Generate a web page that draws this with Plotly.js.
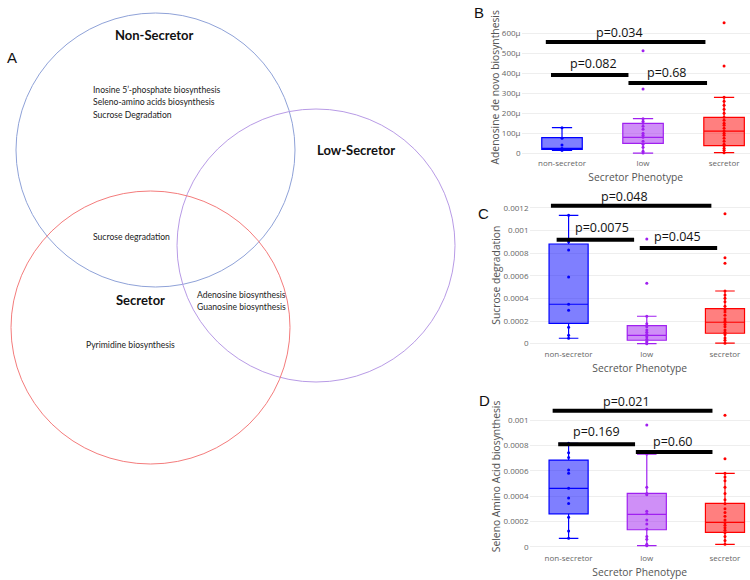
<!DOCTYPE html>
<html><head><meta charset="utf-8">
<script src="https://cdn.plot.ly/plotly-3.0.1.min.js"></script>
<style>html,body{margin:0;padding:0;background:#fff}#chart{width:750px;height:580px}</style>
</head><body><div id="chart"></div>
<script>
// ---------- DATA ----------
const phenotypes = ['non-secretor', 'low', 'secretor'];

// Panel B: Adenosine de novo biosynthesis
const adenosineNonSec = [128e-6, 75e-6, 41e-6, 24e-6, 20e-6, 17e-6, 15e-6];
const adenosineLow = [513e-6, 321e-6, 173e-6, 160e-6, 150e-6, 135e-6, 120e-6, 100e-6, 90e-6, 80e-6, 60e-6, 45e-6, 30e-6, 10e-6, 1e-6];
const adenosineSec = [653e-6, 436e-6, 280e-6, 260e-6, 240e-6, 220e-6, 200e-6, 180e-6, 165e-6, 150e-6, 140e-6, 125e-6, 111e-6, 100e-6, 90e-6, 75e-6, 60e-6, 45e-6, 38e-6, 25e-6, 15e-6, 3e-6];
// [lowerfence, q1, median, q3, upperfence]
const adenosineNonSecStats = [15e-6, 20e-6, 24e-6, 78e-6, 128e-6];
const adenosineLowStats = [1e-6, 50e-6, 80e-6, 150e-6, 173e-6];
const adenosineSecStats = [3e-6, 38e-6, 111e-6, 180e-6, 280e-6];
const adenosineTickVals = [0, 100e-6, 200e-6, 300e-6, 400e-6, 500e-6, 600e-6];
const adenosineTickText = ['0', '100μ', '200μ', '300μ', '400μ', '500μ', '600μ'];
const adenosinePValues = ['p=0.034', 'p=0.082', 'p=0.68'];

// Panel C: Sucrose degradation
const sucroseNonSec = [0.001133, 0.00090, 0.000827, 0.000589, 0.000348, 0.000295, 0.000145, 0.000074, 0.000048];
const sucroseLow = [0.000924, 0.000533, 0.000242, 0.000175, 0.00015, 0.00012, 0.0001, 0.00008, 0.00006, 0.00004, 0.00002, 0.000005, 0];
const sucroseSec = [0.001147, 0.000759, 0.00071, 0.000465, 0.00043, 0.0004, 0.00037, 0.00033, 0.0003, 0.00028, 0.00025, 0.00022, 0.0002, 0.00019, 0.00017, 0.00015, 0.00012, 0.0001, 0.00008, 0.00005, 0.00003, 0.000004];
const sucroseNonSecStats = [0.000048, 0.00018, 0.000348, 0.00088, 0.001133];
const sucroseLowStats = [0, 0.00003, 0.000074, 0.000159, 0.000242];
const sucroseSecStats = [0.000004, 0.000092, 0.000189, 0.000309, 0.000465];
const sucroseTickVals = [0, 0.0002, 0.0004, 0.0006, 0.0008, 0.001, 0.0012];
const sucroseTickText = ['0', '0.0002', '0.0004', '0.0006', '0.0008', '0.001', '0.0012'];
const sucrosePValues = ['p=0.048', 'p=0.0075', 'p=0.045'];

// Panel D: Seleno Amino Acid biosynthesis
const selenoNonSec = [0.000816, 0.000742, 0.000705, 0.000605, 0.000579, 0.000461, 0.000384, 0.000342, 0.000232, 0.000124, 0.000066];
const selenoLow = [0.00096, 0.000731, 0.00047, 0.00042, 0.00041, 0.00028, 0.00026, 0.00021, 0.00018, 0.00014, 0.00008, 0.00006, 0.00002, 0.000008];
const selenoSec = [0.001037, 0.000694, 0.000579, 0.00055, 0.00052, 0.00047, 0.00042, 0.00037, 0.00034, 0.0003, 0.00027, 0.00024, 0.00021, 0.00019, 0.00017, 0.00015, 0.00013, 0.00011, 0.00008, 0.00005, 0.000019];
const selenoNonSecStats = [0.000066, 0.00026, 0.000461, 0.000684, 0.000816];
const selenoLowStats = [0.000008, 0.000134, 0.000256, 0.000421, 0.000731];
const selenoSecStats = [0.000019, 0.000114, 0.000192, 0.000342, 0.000579];
const selenoTickVals = [0, 0.0002, 0.0004, 0.0006, 0.0008, 0.001];
const selenoTickText = ['0', '0.0002', '0.0004', '0.0006', '0.0008', '0.001'];
const selenoPValues = ['p=0.021', 'p=0.169', 'p=0.60'];

// Venn diagram (panel A)
const vennSets = ['Non-Secretor', 'Low-Secretor', 'Secretor'];
const vennNonSecOnly = ['Inosine 5’-phosphate biosynthesis', 'Seleno-amino acids biosynthesis', 'Sucrose Degradation'];
const vennNonSecAndSec = ['Sucrose degradation'];
const vennLowAndSec = ['Adenosine biosynthesis', 'Guanosine biosynthesis'];
const vennSecOnly = ['Pyrimidine biosynthesis'];

// ---------- STYLE / LAYOUT CONFIG ----------
const W = 750, H = 580;
const px = x => x / W;
const py = y => 1 - y / H;
const lineColors = ['rgb(0,0,255)', 'rgb(160,32,240)', 'rgb(255,0,0)'];
const fillColors = ['rgba(0,0,255,0.5)', 'rgba(160,32,240,0.5)', 'rgba(255,0,0,0.5)'];
const tickFont = {family: 'Open Sans, sans-serif', size: 8, color: '#666'};
const titleFont = {family: 'Open Sans, sans-serif', size: 10.3, color: '#555'};
const pFont = {family: 'Open Sans, sans-serif', size: 12.5, color: '#111'};

// panel frames: [left px, top px, bottom px, yRange]
const frameB = [521.5, 17.3, 157.3, [-20e-6, 680e-6]];
const frameC = [529.5, 202.1, 348.2, [-0.00004, 0.00125]];
const frameD = [529.5, 401, 551.8, [-0.00004, 0.00115]];

// comparison bracket geometry per panel: [x0, x1, barY, textX, textY]
const bracketsB = [[-0.2, 1.77, 556e-6, 0.71, 603e-6], [-0.136, 0.82, 391e-6, 0.386, 450e-6], [0.82, 1.79, 351e-6, 1.30, 403e-6]];
const bracketsC = [[-0.226, 1.826, 0.001218, 0.72, 0.0012975], [-0.153, 0.838, 0.000918, 0.43, 0.001027], [0.91, 1.90, 0.000845, 1.39, 0.000942]];
const bracketsD = [[-0.204, 1.84, 0.001074, 0.74, 0.001144], [-0.133, 0.85, 0.000808, 0.36, 0.000908], [0.86, 1.84, 0.000747, 1.34, 0.000829]];

const traces = [];
const shapes = [];
const annotations = [];

function addPanel(xa, ya, frame, pointSets, statSets, pvals, brackets) {
  phenotypes.forEach((p, i) => {
    const s = statSets[i];
    traces.push({
      type: 'box', x: [p], lowerfence: [s[0]], q1: [s[1]], median: [s[2]], q3: [s[3]], upperfence: [s[4]],
      xaxis: xa, yaxis: ya, width: 0.5, whiskerwidth: 0.5, boxpoints: false,
      line: {color: lineColors[i], width: 1.2}, fillcolor: fillColors[i],
      showlegend: false, hoverinfo: 'skip'
    });
    traces.push({
      type: 'scatter', mode: 'markers', x: pointSets[i].map(() => p), y: pointSets[i],
      xaxis: xa, yaxis: ya, marker: {color: lineColors[i], size: 3},
      showlegend: false, hoverinfo: 'y', cliponaxis: false
    });
  });
  const pxPerUnit = (frame[2] - frame[1]) / (frame[3][1] - frame[3][0]);
  brackets.forEach((b, k) => {
    shapes.push({type: 'line', xref: xa, yref: ya, x0: b[0], x1: b[1], y0: b[2], y1: b[2], line: {color: '#000', width: 4}});
    annotations.push({xref: xa, yref: ya, x: b[3], y: b[2], yshift: (b[4] - b[2]) * pxPerUnit,
      text: pvals[k], showarrow: false, font: pFont, xanchor: 'center', yanchor: 'middle'});
  });
}

addPanel('x', 'y', frameB, [adenosineNonSec, adenosineLow, adenosineSec], [adenosineNonSecStats, adenosineLowStats, adenosineSecStats], adenosinePValues, bracketsB);
addPanel('x2', 'y2', frameC, [sucroseNonSec, sucroseLow, sucroseSec], [sucroseNonSecStats, sucroseLowStats, sucroseSecStats], sucrosePValues, bracketsC);
addPanel('x3', 'y3', frameD, [selenoNonSec, selenoLow, selenoSec], [selenoNonSecStats, selenoLowStats, selenoSecStats], selenoPValues, bracketsD);

// Venn circles [x0, x1, top, bottom] in px
const vennCircles = [[16, 295, 13, 287], [177, 455, 109, 382], [11, 290, 191, 464]];
const vennColors = ['#8fa2d8', '#b89be6', '#f47c7c'];
vennCircles.forEach((c, i) => {
  shapes.push({type: 'circle', xref: 'paper', yref: 'paper', x0: px(c[0]), x1: px(c[1]), y0: py(c[3]), y1: py(c[2]), line: {color: vennColors[i], width: 1}});
});
const vennTitlePos = [[154, 35], [356, 150], [140, 300]];
vennSets.forEach((t, i) => {
  annotations.push({xref: 'paper', yref: 'paper', x: px(vennTitlePos[i][0]), y: py(vennTitlePos[i][1]), text: '<b>' + t + '</b>', showarrow: false, xanchor: 'center', yanchor: 'middle', font: {family: 'Lato, sans-serif', size: 13, color: '#111'}});
});
function addRegion(lines, x, y0, dy) {
  lines.forEach((t, k) => {
    annotations.push({xref: 'paper', yref: 'paper', x: px(x), y: py(y0 + k * dy), text: t, showarrow: false, xanchor: 'left', yanchor: 'middle', font: {family: 'Lato, sans-serif', size: 8.6, color: '#222'}});
  });
}
addRegion(vennNonSecOnly, 91, 90, 12.3);
addRegion(vennNonSecAndSec, 91, 237, 12.3);
addRegion(vennLowAndSec, 195, 295, 12.3);
addRegion(vennSecOnly, 84, 345, 12.3);

// panel letters
const panelLetters = [['A', 5, 58], ['B', 472, 12], ['C', 476, 213.5], ['D', 477, 400]];
panelLetters.forEach(l => {
  annotations.push({xref: 'paper', yref: 'paper', x: px(l[1]), y: py(l[2]), text: l[0], showarrow: false, xanchor: 'left', yanchor: 'middle', font: {family: 'Liberation Sans, Arial, sans-serif', size: 15, color: '#111'}});
});

function xAxis(frame, anchor) {
  return {domain: [px(frame[0]), 1], anchor: anchor, type: 'category', categoryorder: 'array', categoryarray: phenotypes,
    range: [-0.5, 2.32], showgrid: false, zeroline: false, showline: false, ticks: '', tickfont: tickFont,
    title: {text: 'Secretor Phenotype', font: titleFont, standoff: 6}, fixedrange: true};
}
function yAxis(frame, tv, tt, title, anchor) {
  return {domain: [py(frame[2]), py(frame[1])], anchor: anchor, range: frame[3], tickvals: tv, ticktext: tt,
    showgrid: true, gridcolor: '#eeeeee', gridwidth: 1, zeroline: false, showline: false, ticks: '', tickfont: tickFont,
    title: {text: title, font: titleFont, standoff: 0}, fixedrange: true};
}

const layout = {
  width: W, height: H, margin: {l: 0, r: 0, t: 0, b: 0},
  paper_bgcolor: '#fff', plot_bgcolor: '#fff', showlegend: false,
  font: {family: 'Open Sans, sans-serif'},
  xaxis: xAxis(frameB, 'y'),
  yaxis: yAxis(frameB, adenosineTickVals, adenosineTickText, 'Adenosine de novo biosynthesis', 'x'),
  xaxis2: xAxis(frameC, 'y2'),
  yaxis2: yAxis(frameC, sucroseTickVals, sucroseTickText, 'Sucrose degradation', 'x2'),
  xaxis3: xAxis(frameD, 'y3'),
  yaxis3: yAxis(frameD, selenoTickVals, selenoTickText, 'Seleno Amino Acid biosynthesis', 'x3'),
  shapes: shapes, annotations: annotations
};

Plotly.newPlot('chart', traces, layout, {displayModeBar: false, staticPlot: true});
</script>
</body></html>
